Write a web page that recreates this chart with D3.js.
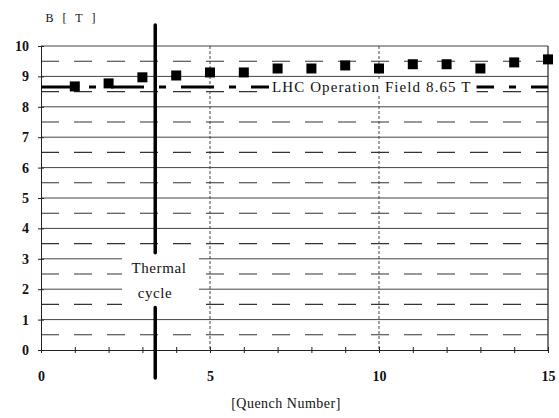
<!DOCTYPE html>
<html>
<head>
<meta charset="utf-8">
<script src="https://cdn.jsdelivr.net/npm/d3@7"></script>
<style>
  body { margin: 0; background: #fff; }
  text { font-family: "Liberation Serif", "Times New Roman", serif; fill: #111; }
</style>
</head>
<body>
<div id="chart"></div>
<script>
// quench data
var quench = [1, 2, 3, 4, 5, 6, 7, 8, 9, 10, 11, 12, 13, 14, 15];
var field = [8.67, 8.77, 8.97, 9.03, 9.13, 9.13, 9.26, 9.26, 9.36, 9.26, 9.4, 9.4, 9.26, 9.46, 9.56];
var yTicks = [0, 1, 2, 3, 4, 5, 6, 7, 8, 9, 10];
var yHalf = [0.5, 1.5, 2.5, 3.5, 4.5, 5.5, 6.5, 7.5, 8.5, 9.5];
var xLabels = [0, 5, 10, 15];
var xMinor = d3.range(0, 16);
var operationField = 8.65;
var thermalCycle = 3.38;

var W = 559, H = 418;
var svg = d3.select("#chart").append("svg")
    .attr("width", W)
    .attr("height", H);

var x = d3.scaleLinear().domain([0, 15]).range([41, 548]);
var y = d3.scaleLinear().domain([0, 10]).range([350, 46]);

// half-value dashed gridlines
svg.selectAll("line.minor")
    .data(yHalf)
  .enter().append("line")
    .attr("class", "minor")
    .attr("x1", x(0)).attr("x2", x(15))
    .attr("y1", function(d){ return y(d); })
    .attr("y2", function(d){ return y(d); })
    .attr("stroke", "#333")
    .attr("stroke-width", 1.1)
    .attr("stroke-dasharray", "18,15");

// integer gridlines
svg.selectAll("line.major")
    .data(yTicks.slice(1))
  .enter().append("line")
    .attr("class", "major")
    .attr("x1", x(0)).attr("x2", x(15))
    .attr("y1", function(d){ return y(d); })
    .attr("y2", function(d){ return y(d); })
    .attr("stroke", "#444")
    .attr("stroke-width", 1);

// vertical gridlines
svg.selectAll("line.vgrid")
    .data([5, 10])
  .enter().append("line")
    .attr("class", "vgrid")
    .attr("x1", function(d){ return x(d); })
    .attr("x2", function(d){ return x(d); })
    .attr("y1", y(10)).attr("y2", y(0))
    .attr("stroke", "#444")
    .attr("stroke-width", 1)
    .attr("stroke-dasharray", "3,2");

// right border
svg.append("line")
    .attr("x1", x(15)).attr("x2", x(15))
    .attr("y1", y(10)).attr("y2", y(0))
    .attr("stroke", "#222")
    .attr("stroke-width", 1.2);

// axes
var yAxis = d3.axisLeft(y).tickValues(yTicks).tickSize(3).tickPadding(9);
var gy = svg.append("g")
    .attr("transform", "translate(" + x(0) + ",0)")
    .call(yAxis);
gy.select(".domain").attr("stroke", "#222");
gy.selectAll(".tick line").attr("stroke", "#222").attr("x2", 3).attr("x1", -3);
gy.selectAll(".tick text")
    .attr("font-family", "Liberation Serif, serif")
    .attr("font-size", 14)
    .attr("font-weight", "bold")
    .attr("fill", "#111");

var xAxis = d3.axisBottom(x).tickValues(xMinor).tickSize(3).tickPadding(18)
    .tickFormat(function(d){ return xLabels.indexOf(d) >= 0 ? d : ""; });
var gx = svg.append("g")
    .attr("transform", "translate(0," + y(0) + ")")
    .call(xAxis);
gx.select(".domain").attr("stroke", "#222");
gx.selectAll(".tick line").attr("stroke", "#222").attr("y1", -3).attr("y2", 3);
gx.selectAll(".tick text")
    .attr("font-family", "Liberation Serif, serif")
    .attr("font-size", 14)
    .attr("font-weight", "bold")
    .attr("fill", "#111");

// LHC operation field line
svg.append("line")
    .attr("x1", x(0)).attr("x2", x(15))
    .attr("y1", y(operationField)).attr("y2", y(operationField))
    .attr("stroke", "#000")
    .attr("stroke-width", 3)
    .attr("stroke-dasharray", "33,15,7,15");

var lhc = svg.append("text")
    .attr("x", 272)
    .attr("y", y(operationField) + 5)
    .attr("font-size", 15)
    .attr("letter-spacing", 1.1)
    .text("LHC Operation Field 8.65 T");
var bb = lhc.node().getBBox();
svg.insert("rect", function(){ return lhc.node(); })
    .attr("x", bb.x - 3).attr("y", bb.y)
    .attr("width", bb.width + 8).attr("height", bb.height)
    .attr("fill", "#fff");

// data squares
svg.selectAll("rect.pt")
    .data(quench)
  .enter().append("rect")
    .attr("class", "pt")
    .attr("x", function(d){ return x(d) - 5; })
    .attr("y", function(d, i){ return y(field[i]) - 5; })
    .attr("width", 10)
    .attr("height", 10)
    .attr("fill", "#000");

// thermal cycle marker
svg.append("rect")
    .attr("x", 122).attr("y", 252).attr("width", 77).attr("height", 55)
    .attr("fill", "#fff");
svg.append("line")
    .attr("x1", x(thermalCycle)).attr("x2", x(thermalCycle))
    .attr("y1", 25).attr("y2", y(3.2))
    .attr("stroke", "#000").attr("stroke-width", 3.5)
    .attr("stroke-linecap", "round");
svg.append("line")
    .attr("x1", x(thermalCycle)).attr("x2", x(thermalCycle))
    .attr("y1", y(1.4)).attr("y2", 378)
    .attr("stroke", "#000").attr("stroke-width", 3.5)
    .attr("stroke-linecap", "round");

svg.append("text")
    .attr("x", 159).attr("y", 273)
    .attr("text-anchor", "middle")
    .attr("font-size", 15)
    .attr("letter-spacing", 0.6)
    .text("Thermal");
svg.append("text")
    .attr("x", 155).attr("y", 298)
    .attr("text-anchor", "middle")
    .attr("font-size", 15)
    .attr("letter-spacing", 0.6)
    .text("cycle");

// axis titles
svg.append("text")
    .attr("x", 72).attr("y", 22)
    .attr("text-anchor", "middle")
    .attr("font-size", 12)
    .attr("letter-spacing", 3)
    .text("B [ T ]");
svg.append("text")
    .attr("x", 286).attr("y", 408)
    .attr("text-anchor", "middle")
    .attr("font-size", 14)
    .attr("letter-spacing", 0.5)
    .text("[Quench Number]");
</script>
</body>
</html>
